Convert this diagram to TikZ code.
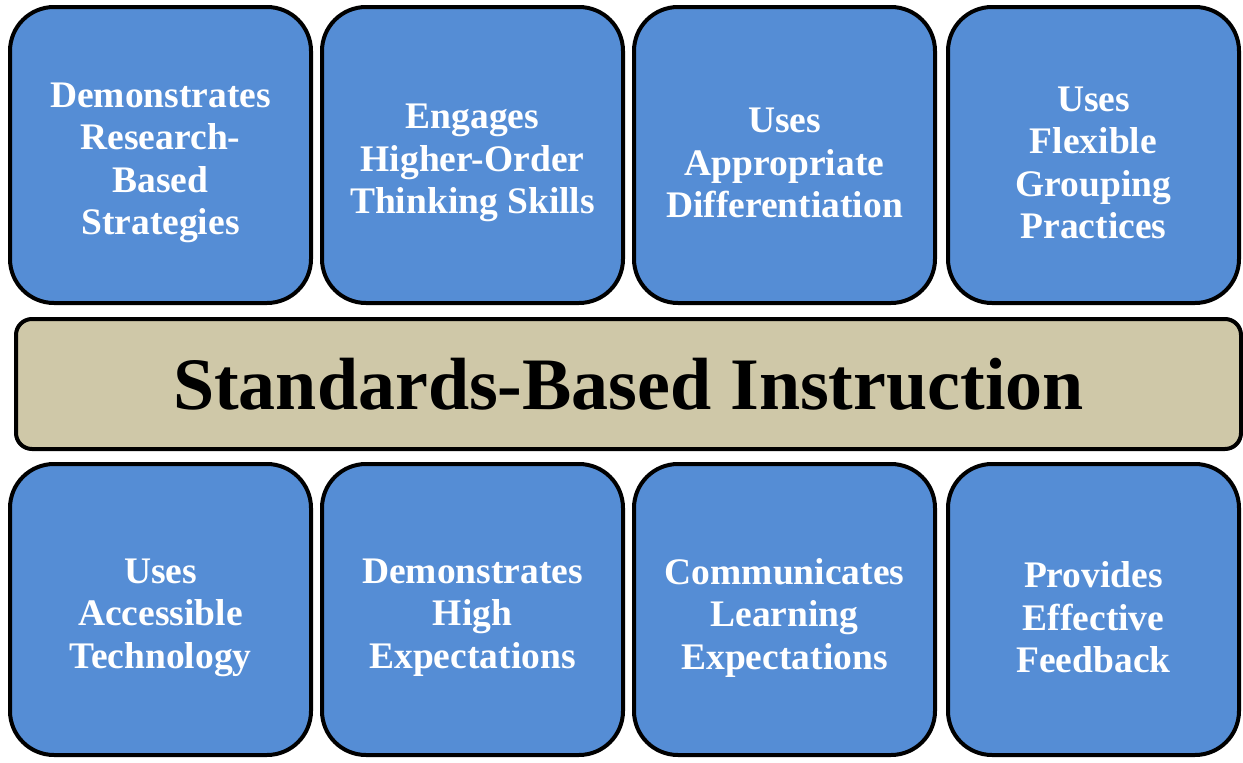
\documentclass[tikz,border=0pt]{standalone}
\usepackage{fontspec}
\setmainfont{Liberation Serif}
\definecolor{boxblue}{RGB}{85,141,213}
\definecolor{bandtan}{RGB}{207,200,168}
\begin{document}
\begin{tikzpicture}[x=1pt,y=-1pt,
  card/.style={draw=black,line width=4pt,fill=boxblue,rounded corners=44pt,
    minimum width=301pt,minimum height=296pt,inner sep=0pt},
  cardtext/.style={text=white,font=\fontsize{37.5}{42.5}\selectfont\bfseries,
    align=center,inner sep=0pt,yshift=-8pt},
  band/.style={draw=black,line width=4pt,fill=bandtan,rounded corners=16pt,
    minimum width=1225pt,minimum height=130pt,inner sep=0pt,
    font=\fontsize{74}{80}\selectfont\bfseries}]
\useasboundingbox (0,0) rectangle (1243,763);
% top row
\node[card] (t1) at (160.5,155) {};
\node[card] (t2) at (472.5,155) {};
\node[card] (t3) at (784.5,155) {};
\node[card,minimum width=291pt] (t4) at (1093.5,155) {};
\node[cardtext] (t1x) at (t1.center) {Demonstrates\\Research-\\Based\\Strategies};
\node[cardtext] (t2x) at (t2.center) {Engages\\Higher-Order\\Thinking Skills};
\node[cardtext] (t3x) at (t3.center) {Uses\\Appropriate\\Differentiation};
\node[cardtext] (t4x) at (t4.center) {Uses\\Flexible\\Grouping\\Practices};
% band
\node[band] (b) at (628.5,384) {Standards-Based Instruction};
% bottom row
\node[card,minimum height=291pt] (u1) at (160.5,609.5) {};
\node[card,minimum height=291pt] (u2) at (472.5,609.5) {};
\node[card,minimum height=291pt] (u3) at (784.5,609.5) {};
\node[card,minimum height=291pt,minimum width=291pt] (u4) at (1093.5,609.5) {};
\node[cardtext] (u1x) at (u1.center) {Uses\\Accessible\\Technology};
\node[cardtext] (u2x) at (u2.center) {Demonstrates\\High\\Expectations};
\node[cardtext] (u3x) at (u3.center) {Communicates\\Learning\\Expectations};
\node[cardtext] (u4x) at (u4.center) {Provides\\Effective\\Feedback};
\end{tikzpicture}
\end{document}
